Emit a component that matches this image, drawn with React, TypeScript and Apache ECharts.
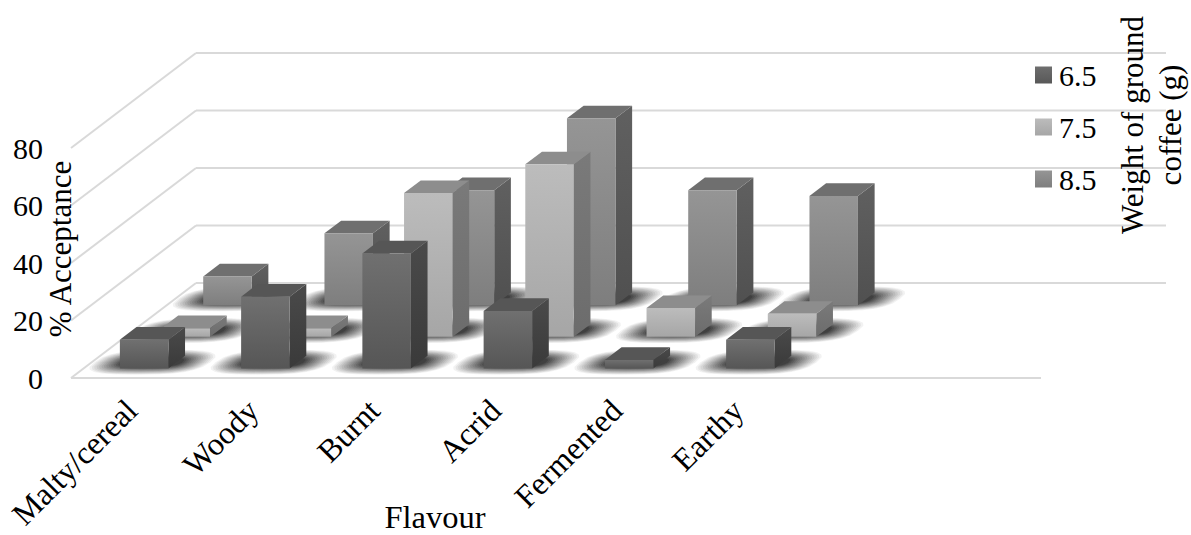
import React, { useEffect, useRef } from "react";
import * as echarts from "echarts";

// Flavour categories; the last two bands stay empty on the floor of the chart.
const categories = ["Malty/cereal", "Woody", "Burnt", "Acrid", "Fermented", "Earthy", "", ""];
const yTicks = [0, 20, 40, 60, 80];

const values65 = [10, 25, 40, 20, 3, 10];
const values75 = [3, 3, 50, 60, 10, 8];
const values85 = [10, 25, 40, 65, 40, 38];

const FONT = '"Liberation Serif", "Times New Roman", serif';

// Oblique projection of the chart's depth axis, in pixels.
const DEPTH_X = 125;
const DEPTH_Y = -95;
const ROWS = 3;
const SHADOW_STEPS = 14;
const SHADOW_POINTS = 24;
const SHADOW_PEAK = 0.92;

const vGrad = (a: string, b: string) => ({
  type: "linear",
  x: 0,
  y: 0,
  x2: 0,
  y2: 1,
  colorStops: [
    { offset: 0, color: a },
    { offset: 1, color: b },
  ],
});

const rowStyles = [
  { front: vGrad("#707070", "#565656"), top: "#565656", side: vGrad("#4a4a4a", "#3a3a3a"), legend: vGrad("#6e6e6e", "#585858") },
  { front: vGrad("#bcbcbc", "#a6a6a6"), top: "#8d8d8d", side: vGrad("#7a7a7a", "#6c6c6c"), legend: vGrad("#bcbcbc", "#a6a6a6") },
  { front: vGrad("#959595", "#7e7e7e"), top: "#6f6f6f", side: vGrad("#606060", "#505050"), legend: vGrad("#959595", "#7e7e7e") },
];

// Corner points of a bar's footprint on the floor, for a given depth row.
function footprint(api: any, cat: number, row: number, lift: number) {
  const [cx, y0] = api.coord([cat, lift]);
  const band = api.size([1, 0])[0];
  const w = band * 0.4;
  const stepX = DEPTH_X / ROWS;
  const stepY = DEPTH_Y / ROWS;
  const dx = stepX * 0.4;
  const dy = stepY * 0.4;
  const x0 = cx + stepX * (row + 0.5) - w / 2 - dx / 2;
  const yb = y0 + stepY * (row + 0.5) - dy / 2;
  return { x0, yb, w, dx, dy };
}

function barRenderer(row: number) {
  return (_: any, api: any) => {
    const cat = api.value(0);
    const v = api.value(1);
    const s = rowStyles[row];
    const b = footprint(api, cat, row, 0);
    const t = footprint(api, cat, row, v);
    return {
      type: "group",
      children: [
        {
          type: "polygon",
          shape: { points: [[t.x0 + t.w, t.yb], [t.x0 + t.w + t.dx, t.yb + t.dy], [b.x0 + b.w + b.dx, b.yb + b.dy], [b.x0 + b.w, b.yb]] },
          style: { fill: s.side },
        },
        {
          type: "polygon",
          shape: { points: [[t.x0, t.yb], [t.x0 + t.dx, t.yb + t.dy], [t.x0 + t.w + t.dx, t.yb + t.dy], [t.x0 + t.w, t.yb]] },
          style: { fill: s.top },
        },
        {
          type: "rect",
          shape: { x: b.x0, y: t.yb, width: b.w, height: b.yb - t.yb },
          style: { fill: s.front },
        },
      ],
    };
  };
}

const signedPow = (a: number, p: number) => Math.sign(a) * Math.pow(Math.abs(a), p);

// Soft shadow on the floor: nested translucent sheared ovals. Each ring's alpha
// is chosen so the stacked opacity ramps up evenly from the rim to the core.
function shadowRenderer(row: number) {
  return (_: any, api: any) => {
    const b = footprint(api, api.value(0), row, 0);
    const cx = b.x0 + (b.w + b.dx) / 2;
    const cy = b.yb + b.dy / 2;
    const shear = b.dx / -b.dy;
    const children: any[] = [];
    let stacked = 0;
    for (let i = SHADOW_STEPS - 1; i >= 0; i--) {
      const t = i / (SHADOW_STEPS - 1);
      const rx = 30 + 28 * t;
      const ry = 5 + 7.5 * t;
      const wanted = SHADOW_PEAK * (1 - t + 1 / SHADOW_STEPS) / (1 + 1 / SHADOW_STEPS);
      const alpha = 1 - (1 - wanted) / (1 - stacked);
      stacked = wanted;
      const points: number[][] = [];
      for (let k = 0; k < SHADOW_POINTS; k++) {
        const a = (k / SHADOW_POINTS) * Math.PI * 2;
        const py = ry * signedPow(Math.sin(a), 0.7);
        const px = rx * signedPow(Math.cos(a), 0.7);
        points.push([cx + px - py * shear, cy + py]);
      }
      children.push({
        type: "polygon",
        shape: { points },
        style: { fill: `rgba(48,48,48,${alpha.toFixed(3)})` },
      });
    }
    return { type: "group", children };
  };
}

// Side wall and back wall gridlines, plus the front edge of the floor.
function wallRenderer(params: any, api: any) {
  const v = api.value(1);
  const y = api.coord([0, v])[1];
  const sys = params.coordSys;
  const left = sys.x;
  const right = sys.x + sys.width;
  const line = (x1: number, y1: number, x2: number, y2: number) => ({
    type: "line",
    shape: { x1, y1, x2, y2 },
    style: { stroke: "#d9d9d9", lineWidth: 2 },
  });
  const children = [
    line(left, y, left + DEPTH_X, y + DEPTH_Y),
    line(left + DEPTH_X, y + DEPTH_Y, right + DEPTH_X, y + DEPTH_Y),
  ];
  if (v === 0) children.push(line(left, y, right, y));
  return { type: "group", children };
}

const rows = [
  { name: "6.5", values: values65 },
  { name: "7.5", values: values75 },
  { name: "8.5", values: values85 },
];

export default function App() {
  const ref = useRef<HTMLDivElement>(null);

  useEffect(() => {
    document.body.style.margin = "0";
    const chart = echarts.init(ref.current!, undefined, { renderer: "svg" });

    const series: any[] = [
      {
        type: "custom",
        name: "walls",
        renderItem: wallRenderer,
        data: yTicks.map((v) => [0, v]),
        encode: { x: 0, y: 1 },
        z: 1,
        silent: true,
      },
    ];
    rows.forEach((r, row) => {
      series.push({
        type: "custom",
        name: "shadow" + r.name,
        renderItem: shadowRenderer(row),
        data: r.values.map((v, i) => [i, v]),
        encode: { x: 0, y: 1 },
        z: 2,
        silent: true,
      });
    });
    // Back row first, so nearer rows paint over it.
    rows.forEach((r, row) => {
      series.push({
        type: "custom",
        name: r.name,
        renderItem: barRenderer(row),
        data: r.values.map((v, i) => [i, v]),
        encode: { x: 0, y: 1 },
        itemStyle: { color: rowStyles[row].legend },
        z: 10 - row,
      });
    });

    chart.setOption({
      animation: false,
      backgroundColor: "#ffffff",
      grid: { left: 71, right: 150, top: 148, bottom: 157, outerBoundsMode: "none" },
      xAxis: {
        type: "category",
        data: categories,
        axisLine: { show: false },
        axisTick: { show: false },
        splitLine: { show: false },
        axisLabel: {
          interval: 0,
          rotate: 45,
          margin: 27,
          color: "#000",
          fontFamily: FONT,
          fontSize: 32,
        },
      },
      yAxis: {
        type: "value",
        min: 0,
        max: 80,
        interval: 20,
        axisLine: { show: false },
        axisTick: { show: false },
        splitLine: { show: false },
        axisLabel: { margin: 28, color: "#000", fontFamily: FONT, fontSize: 30 },
      },
      legend: {
        data: rows.map((r) => r.name),
        orient: "vertical",
        left: 1030,
        top: 55,
        itemWidth: 17,
        itemHeight: 17,
        itemGap: 22,
        icon: "rect",
        textStyle: { color: "#000", fontFamily: FONT, fontSize: 30, padding: [0, 0, 0, 2] },
      },
      graphic: [
        {
          type: "text",
          x: 60,
          y: 249,
          rotation: Math.PI / 2,
          style: { text: "% Acceptance", align: "center", verticalAlign: "middle", fontFamily: FONT, fontSize: 31, fill: "#000" },
          z: 30,
        },
        {
          type: "text",
          x: 435,
          y: 517,
          style: { text: "Flavour", align: "center", verticalAlign: "middle", fontFamily: FONT, fontSize: 32.5, fill: "#000" },
          z: 30,
        },
        {
          type: "text",
          x: 1151,
          y: 125,
          rotation: Math.PI / 2,
          style: {
            text: "Weight of ground\ncoffee (g)",
            align: "center",
            verticalAlign: "middle",
            lineHeight: 38,
            fontFamily: FONT,
            fontSize: 31,
            fill: "#000",
          },
          z: 30,
        },
      ],
      series,
    });

    return () => chart.dispose();
  }, []);

  return <div ref={ref} style={{ width: 1191, height: 535 }} />;
}
